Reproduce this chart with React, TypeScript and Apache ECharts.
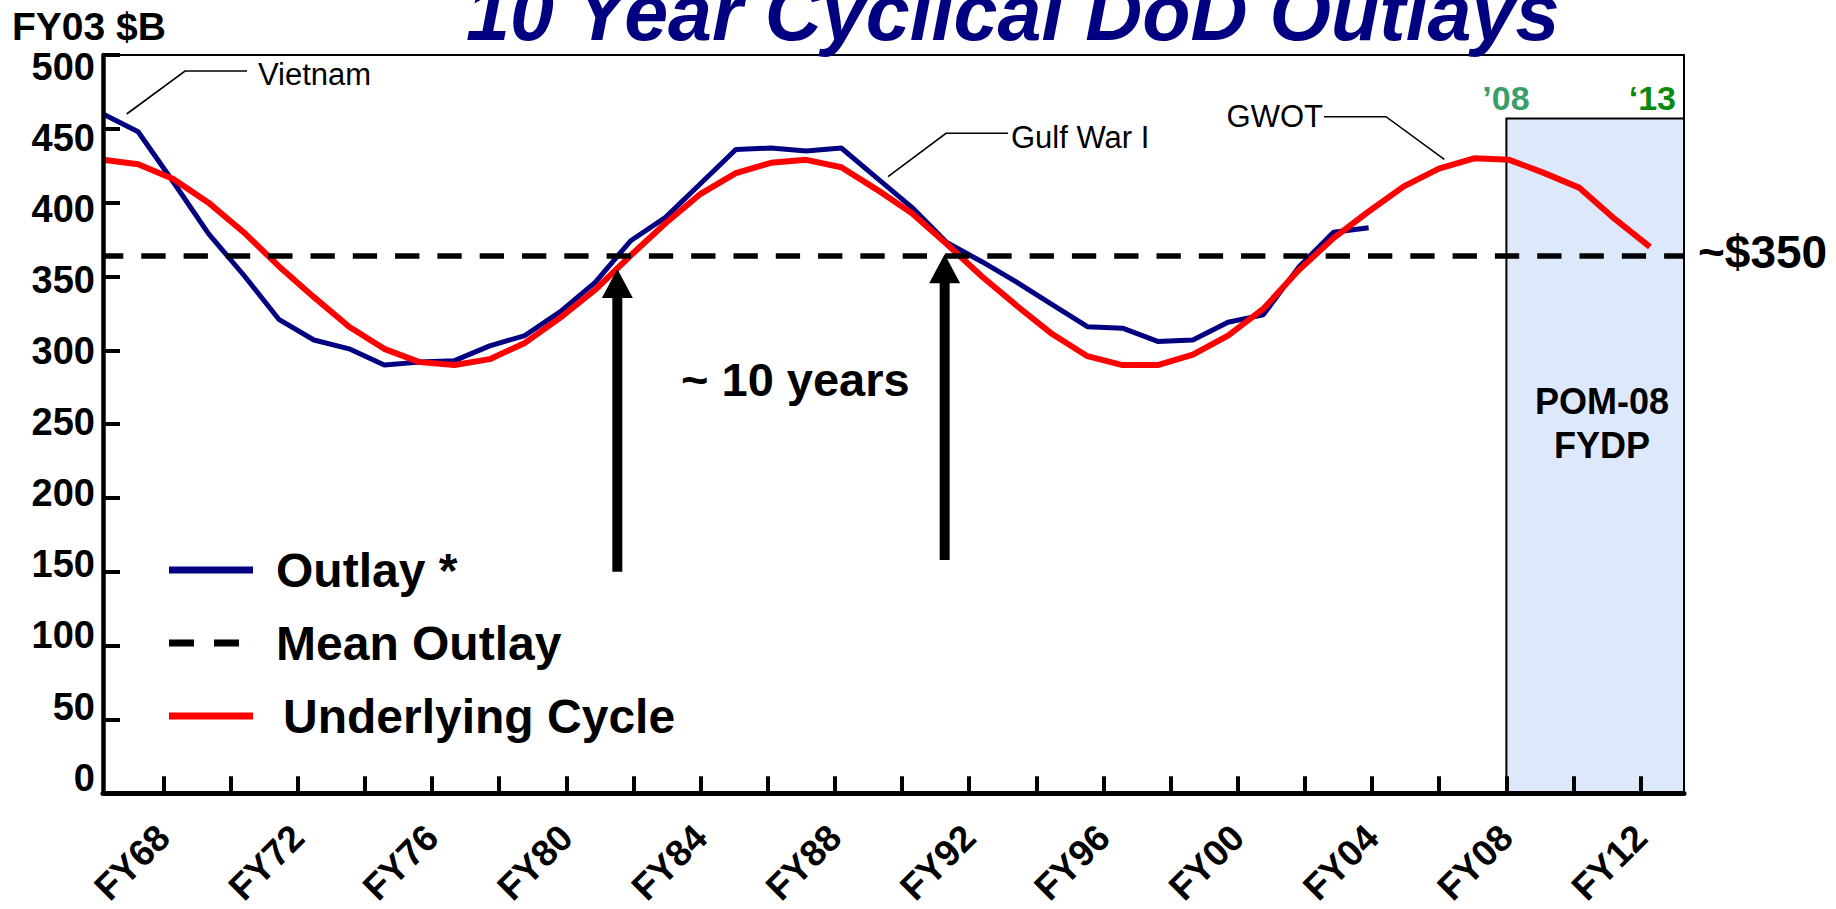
import React, { useEffect, useRef } from "react";
import * as echarts from "echarts";

// ---------- data ----------
const years = [
  1968, 1969, 1970, 1971, 1972, 1973, 1974, 1975, 1976, 1977, 1978, 1979, 1980, 1981, 1982,
  1983, 1984, 1985, 1986, 1987, 1988, 1989, 1990, 1991, 1992, 1993, 1994, 1995, 1996, 1997,
  1998, 1999, 2000, 2001, 2002, 2003, 2004, 2005, 2006, 2007, 2008, 2009, 2010, 2011, 2012,
];
// Outlay * (FY03 $B), FY68..FY04
const outlay = [
  460, 448, 414, 379, 351, 321, 307, 301, 290, 292, 293, 303, 310, 326, 346, 374, 390, 413,
  436, 437, 435, 437, 417, 397, 373, 360, 346, 331, 316, 315, 306, 307, 319, 324, 356, 380, 383,
];
// Underlying Cycle (FY03 $B), FY68..FY12
const cycle = [
  429, 426, 416, 400, 380, 357, 336, 316, 301, 292, 290, 294, 305, 322, 341, 364, 386, 406,
  420, 427, 429, 424, 409, 393, 372, 350, 330, 311, 296, 290, 290, 297, 310, 328, 354, 376,
  394, 411, 423, 430, 429, 420, 410, 389, 370,
];
const meanOutlay = 364;
const tickYears = [
  1968, 1970, 1972, 1974, 1976, 1978, 1980, 1982, 1984, 1986, 1988, 1990, 1992, 1994, 1996,
  1998, 2000, 2002, 2004, 2006, 2008, 2010, 2012,
];
const labelYears = [1968, 1972, 1976, 1980, 1984, 1988, 1992, 1996, 2000, 2004, 2008, 2012];
const yTicks = [0, 50, 100, 150, 200, 250, 300, 350, 400, 450, 500];
// FYDP window
const fydpStart = 2008;
const fydpTop = 457;
// ~10 year arrows: [year, base value, tip value]
const arrowYears = [1982.63, 1991.94];
const arrowBases = [150, 158];
const arrowTips = [355, 365];

// ---------- axis ranges ----------
const DATA_X_MIN = 1968;
const DATA_X_MAX = 2012.97;
const TICK_X_MIN = 1966.2;
const TICK_X_MAX = 2013.29;
const LABEL_Y_MIN = -11;
const LABEL_Y_MAX = 508.1;

const SANS = '"Liberation Sans", Arial, Helvetica, sans-serif';

function txt(text: string, x: number, y: number, font: string, fill: string, align = "left", extra: any = {}) {
  return {
    type: "text",
    z: 50,
    silent: true,
    style: {
      text,
      x,
      y,
      font,
      fill,
      align,
      verticalAlign: "middle",
      textAlign: align,
      textVerticalAlign: "middle",
      ...extra,
    },
  };
}

function leader(points: number[][]) {
  return {
    type: "polyline",
    z: 50,
    silent: true,
    shape: { points },
    style: { stroke: "#000", lineWidth: 1.6, fill: null },
  };
}

export default function App() {
  const ref = useRef<HTMLDivElement>(null);

  useEffect(() => {
    if (!ref.current) return;
    const chart = echarts.init(ref.current, null, { renderer: "svg" });

    const outlayData = outlay.map((v, i) => [years[i], v]);
    const cycleData = cycle.map((v, i) => [years[i], v]);

    const legendText = {
      fontSize: 48,
      fontWeight: "bold",
      fontFamily: SANS,
      color: "#000",
      lineHeight: 52,
      padding: [0, 0, 0, 18],
    };

    chart.setOption({
      animation: false,
      backgroundColor: "#ffffff",
      grid: {
        left: 103,
        right: 152,
        top: 55,
        bottom: 106,
        show: true,
        borderColor: "#000",
        borderWidth: 2,
        backgroundColor: "transparent",
        containLabel: false,
      },
      legend: {
        orient: "vertical",
        left: 169,
        top: 544,
        itemWidth: 84,
        itemHeight: 7,
        itemGap: 21,
        padding: 0,
        selectedMode: false,
        symbolKeepAspect: false,
        itemStyle: { borderWidth: 0 },
        textStyle: legendText,
        data: [
          { name: "Outlay *", icon: "rect" },
          { name: "Mean Outlay", icon: "path://M0,0h25v6h-25z M45,0h25v6h-25z M84,0h0.01v6h-0.01z" },
          { name: "Underlying Cycle", icon: "rect", textStyle: { ...legendText, padding: [0, 0, 0, 25] } },
        ],
      },
      xAxis: [
        { type: "value", min: DATA_X_MIN, max: DATA_X_MAX, show: false },
        {
          type: "value",
          position: "bottom",
          min: TICK_X_MIN,
          max: TICK_X_MAX,
          z: 5,
          axisLine: { show: true, onZero: false, lineStyle: { color: "#000", width: 5 } },
          axisTick: {
            show: true,
            inside: true,
            length: 17,
            customValues: tickYears,
            lineStyle: { color: "#000", width: 4 },
          },
          axisLabel: {
            show: true,
            customValues: labelYears,
            rotate: 45,
            margin: 38,
            formatter: (v: number) => "FY" + String(v).slice(2),
            fontSize: 37,
            fontWeight: "bold",
            fontFamily: SANS,
            color: "#000",
          },
          splitLine: { show: false },
        },
      ],
      yAxis: [
        {
          type: "value",
          min: 0,
          max: 500,
          interval: 50,
          z: 5,
          axisLine: { show: true, onZero: false, lineStyle: { color: "#000", width: 4.5 } },
          axisTick: { show: true, inside: true, length: 17, lineStyle: { color: "#000", width: 4 } },
          axisLabel: { show: false },
          splitLine: { show: false },
        },
        {
          type: "value",
          position: "left",
          min: LABEL_Y_MIN,
          max: LABEL_Y_MAX,
          axisLine: { show: false },
          axisTick: { show: false },
          splitLine: { show: false },
          axisLabel: {
            show: true,
            customValues: yTicks,
            margin: 8,
            fontSize: 38,
            fontWeight: "bold",
            fontFamily: SANS,
            color: "#000",
          },
        },
      ],
      series: [
        {
          name: "FYDP",
          type: "line",
          xAxisIndex: 1,
          yAxisIndex: 0,
          data: [],
          silent: true,
          markArea: {
            silent: true,
            itemStyle: { color: "#dde8fb", borderColor: "#000", borderWidth: 2 },
            label: { show: false },
            data: [[{ xAxis: fydpStart, yAxis: 0 }, { xAxis: TICK_X_MAX, yAxis: fydpTop }]],
          },
        },
        {
          name: "Mean Outlay",
          type: "line",
          xAxisIndex: 0,
          yAxisIndex: 0,
          data: [],
          color: "#000",
          itemStyle: { color: "#000" },
          lineStyle: { color: "#000", width: 5, type: [24, 18] },
          markLine: {
            silent: true,
            symbol: "none",
            label: { show: false },
            lineStyle: { color: "#000", width: 5.5, type: [24.3, 18], dashOffset: 3.5 },
            data: [{ yAxis: meanOutlay }],
          },
        },
        {
          name: "Outlay *",
          type: "line",
          xAxisIndex: 0,
          yAxisIndex: 0,
          data: outlayData,
          symbol: "none",
          color: "#000080",
          itemStyle: { color: "#000080" },
          lineStyle: { color: "#000080", width: 5 },
        },
        {
          name: "Underlying Cycle",
          type: "line",
          xAxisIndex: 0,
          yAxisIndex: 0,
          data: cycleData,
          symbol: "none",
          color: "#ff0000",
          itemStyle: { color: "#ff0000" },
          lineStyle: { color: "#ff0000", width: 6 },
        },
      ],
    });

    // arrows anchored to data coordinates
    const arrows: any[] = [];
    arrowYears.forEach((yr, i) => {
      const base = chart.convertToPixel({ seriesIndex: 3 }, [yr, arrowBases[i]]) as number[];
      const tip = chart.convertToPixel({ seriesIndex: 3 }, [yr, arrowTips[i]]) as number[];
      if (!base || !tip) return;
      const x = tip[0];
      const headH = 29;
      const headW = 31;
      arrows.push({
        type: "rect",
        z: 40,
        silent: true,
        shape: { x: x - 5, y: tip[1] + headH - 1, width: 10, height: base[1] - tip[1] - headH + 1 },
        style: { fill: "#000" },
      });
      arrows.push({
        type: "polygon",
        z: 40,
        silent: true,
        shape: {
          points: [
            [x - headW / 2, tip[1] + headH],
            [x + headW / 2, tip[1] + headH],
            [x, tip[1]],
          ],
        },
        style: { fill: "#000" },
      });
    });

    chart.setOption({
      graphic: [
        txt("10 Year Cyclical DoD Outlays", 466, 12, `italic bold 79px ${SANS}`, "#000080", "left", {
          shadowColor: "#a6a6a6",
          shadowOffsetX: 5,
          shadowOffsetY: 4,
          shadowBlur: 0,
        }),
        txt("FY03 $B", 12, 26, `bold 39px ${SANS}`, "#000"),
        leader([[126.7, 114], [185, 71], [247, 71]]),
        txt("Vietnam", 258, 74, `31px ${SANS}`, "#000"),
        leader([[888, 176.7], [946, 133.3], [1008, 133.3]]),
        txt("Gulf War I", 1011, 137, `31px ${SANS}`, "#000"),
        leader([[1324, 116.7], [1386, 116.7], [1444.3, 159.3]]),
        txt("GWOT", 1323, 116, `31px ${SANS}`, "#000", "right"),
        txt("~ 10 years", 681, 379, `bold 47px ${SANS}`, "#000"),
        txt("\u201908", 1506, 98, `bold 34px ${SANS}`, "#3a9e6b", "center"),
        txt("\u201813", 1676, 98, `bold 34px ${SANS}`, "#0a8a0a", "right"),
        txt("~$350", 1698, 252, `bold 46px ${SANS}`, "#000"),
        txt("POM-08", 1602, 401, `bold 36px ${SANS}`, "#000", "center"),
        txt("FYDP", 1602, 445, `bold 36px ${SANS}`, "#000", "center"),
        ...arrows,
      ],
    });

    return () => {
      chart.dispose();
    };
  }, []);

  return (
    <div
      ref={ref}
      style={{ position: "absolute", left: 0, top: 0, width: 1836, height: 909, background: "#fff" }}
    />
  );
}
